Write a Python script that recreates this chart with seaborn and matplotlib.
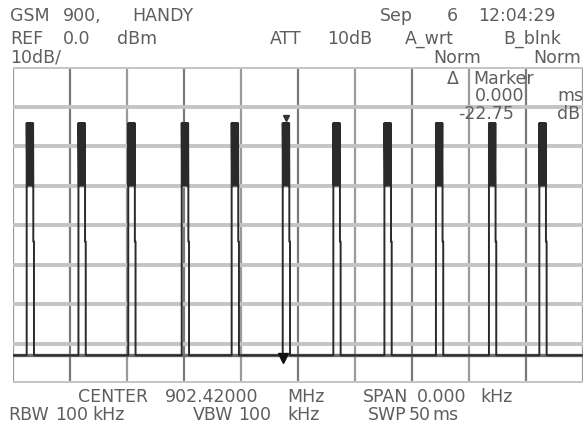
import numpy as np
import pandas as pd
import matplotlib
matplotlib.use("Agg")
import matplotlib.pyplot as plt
import seaborn as sns

# burst centres (ms), sweep 0..50 ms
burst_centres = [1.49, 6.03, 10.40, 15.09, 19.47, 23.95, 28.39, 32.87, 37.39, 42.04, 46.46]
burst_width = 0.58

# one burst as it shows on the screen: rise, dense top band, falling edge with a step
burst_dt = [0.00, 0.00, 0.04, 0.08, 0.12, 0.16, 0.20, 0.24, 0.28, 0.32, 0.36, 0.40,
            0.44, 0.48, 0.52, 0.56, 0.58, 0.58, 0.64, 0.64]
burst_db = [-73.0, -14.2, -30.0, -14.2, -30.0, -14.2, -30.0, -14.2, -30.0, -14.2,
            -30.0, -14.2, -30.0, -14.2, -30.0, -14.2, -30.0, -44.2, -44.2, -73.0]

noise_floor = -73.0
ref_level = 0.0
db_per_div = 10
n_ydiv = 8
sweep_ms = 50

marker_top = (23.95, -13.0)
marker_bottom = (23.70, -73.6)

header = [
    ("GSM", 10, 16), ("900,", 63, 16), ("HANDY", 132, 16),
    ("Sep", 380, 16), ("6", 447, 16), ("12:04:29", 478, 16),
    ("REF", 10, 39), ("0.0", 63, 39), ("dBm", 117, 39),
    ("ATT", 270, 39), ("10dB", 327, 39), ("A_wrt", 405, 39), ("B_blnk", 503, 39),
    ("10dB/", 10, 58), ("Norm", 433, 58), ("Norm", 533, 58),
    ("CENTER", 78, 397), ("902.42000", 165, 397), ("MHz", 287, 397),
    ("SPAN", 363, 397), ("0.000", 417, 397), ("kHz", 480, 397),
    ("RBW", 8, 415), ("100", 55, 415), ("kHz", 92, 415),
    ("VBW", 193, 415), ("100", 238, 415), ("kHz", 287, 415),
    ("SWP", 368, 415), ("50", 409, 415), ("ms", 432, 415),
]
marker_text = [
    ("\u0394", 447, 79), ("Marker", 473, 79),
    ("0.000", 475, 96), ("ms", 557, 96),
    ("-22.75", 458, 114), ("dB", 557, 114),
]

# build the trace
t = [0.0]
v = [noise_floor]
for c in burst_centres:
    start = c - burst_width / 2
    for dt, db in zip(burst_dt, burst_db):
        t.append(start + dt)
        v.append(db)
t.append(sweep_ms)
v.append(noise_floor)
trace = pd.DataFrame({"time": t, "level": v})

sns.set_theme(style="white")
W, H = 584, 426
fig = plt.figure(figsize=(W / 100, H / 100), dpi=100)
ax = fig.add_axes([13 / W, 43 / H, 570 / W, 316 / H])

bottom = ref_level - n_ydiv * db_per_div
for i, x in enumerate(np.arange(0, sweep_ms + 1, 5)):
    col = "#7a7a7a" if i % 2 else "#9a9a9a"
    ax.axvline(x, color=col, lw=1.6, zorder=1)
for y in np.arange(bottom, ref_level + 1, db_per_div):
    ax.axhline(y, color="#c4c4c4", lw=2.8, zorder=1)

# noise floor looks thicker and grey between bursts
ax.axhline(noise_floor, color="#707070", lw=2.4, zorder=2)
sns.lineplot(data=trace, x="time", y="level", sort=False, estimator=None,
             color="#2a2a2a", lw=1.4, ax=ax, zorder=3)

ax.plot(*marker_top, marker="v", ms=5, color="#333333", zorder=4)
ax.plot(*marker_bottom, marker="v", ms=7, color="#111111", zorder=4)

ax.set_xlim(0, sweep_ms)
ax.set_ylim(bottom, ref_level)
ax.set_xticks([])
ax.set_yticks([])
ax.set_xlabel("")
ax.set_ylabel("")
for s in ax.spines.values():
    s.set_visible(False)

for txt, x, y in header + marker_text:
    fig.text(x / W, 1 - y / H, txt, ha="left", va="center", fontsize=12.5,
             color="#5e5e5e", family="DejaVu Sans")

fig.savefig("out.png", dpi=100)
